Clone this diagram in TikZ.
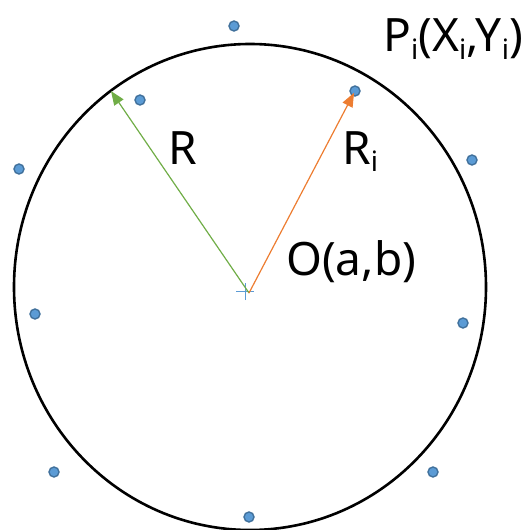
\documentclass[tikz,border=0pt]{standalone}
\usepackage{fontspec}
\setmainfont{Noto Sans}
\usetikzlibrary{arrows.meta}
\definecolor{ptblue}{HTML}{5B9BD5}
\definecolor{ptedge}{HTML}{41719C}
\definecolor{rgreen}{HTML}{70AD47}
\definecolor{rorange}{HTML}{ED7D31}
\newcommand{\lowi}{\raisebox{-7pt}{\fontsize{28}{30}\selectfont i}}

\begin{document}
\begin{tikzpicture}[x=1pt,y=-1pt,>={Triangle[length=14pt,width=11pt]},
    pt/.style={circle,fill=ptblue,draw=ptedge,line width=1.4pt,inner sep=0pt,minimum size=10pt},
    lbl/.style={anchor=base west,inner sep=0pt,font=\fontsize{46}{50}\selectfont}]
  \useasboundingbox (0,0) rectangle (531,530);
  \draw[line width=2.6pt] (250,287) ellipse [x radius=236,y radius=243];
  \coordinate (O) at (249,293);
  \coordinate (mark) at (245,291);
  \coordinate (edge) at (111,91);
  \foreach \n/\x/\y in {1/234/26,2/140/100,3/355/91,4/472/160,5/19/169,
      6/35/314,7/463/323,8/54/472,9/433/472,10/249/517}
    \node[pt] (p\n) at (\x,\y) {};
  \draw[ptblue,line width=1pt] ([xshift=-9pt]mark) -- ([xshift=9pt]mark)
    ([yshift=-9pt]mark) -- ([yshift=8pt]mark);
  \draw[->,rgreen,line width=1.2pt] (O) -- (edge);
  \draw[->,rorange,line width=1.2pt,shorten >=2pt] (O) -- (p3.center);
  \node[lbl] (rlabel) at (168,164) {R};
  \node[lbl] (rilabel) at (342,164) {R\lowi};
  \node[lbl] (olabel) at (286,275) {O(a,b)};
  \node[lbl] (plabel) at (383,52) {P\lowi(X\lowi,Y\lowi)};
\end{tikzpicture}
\end{document}
